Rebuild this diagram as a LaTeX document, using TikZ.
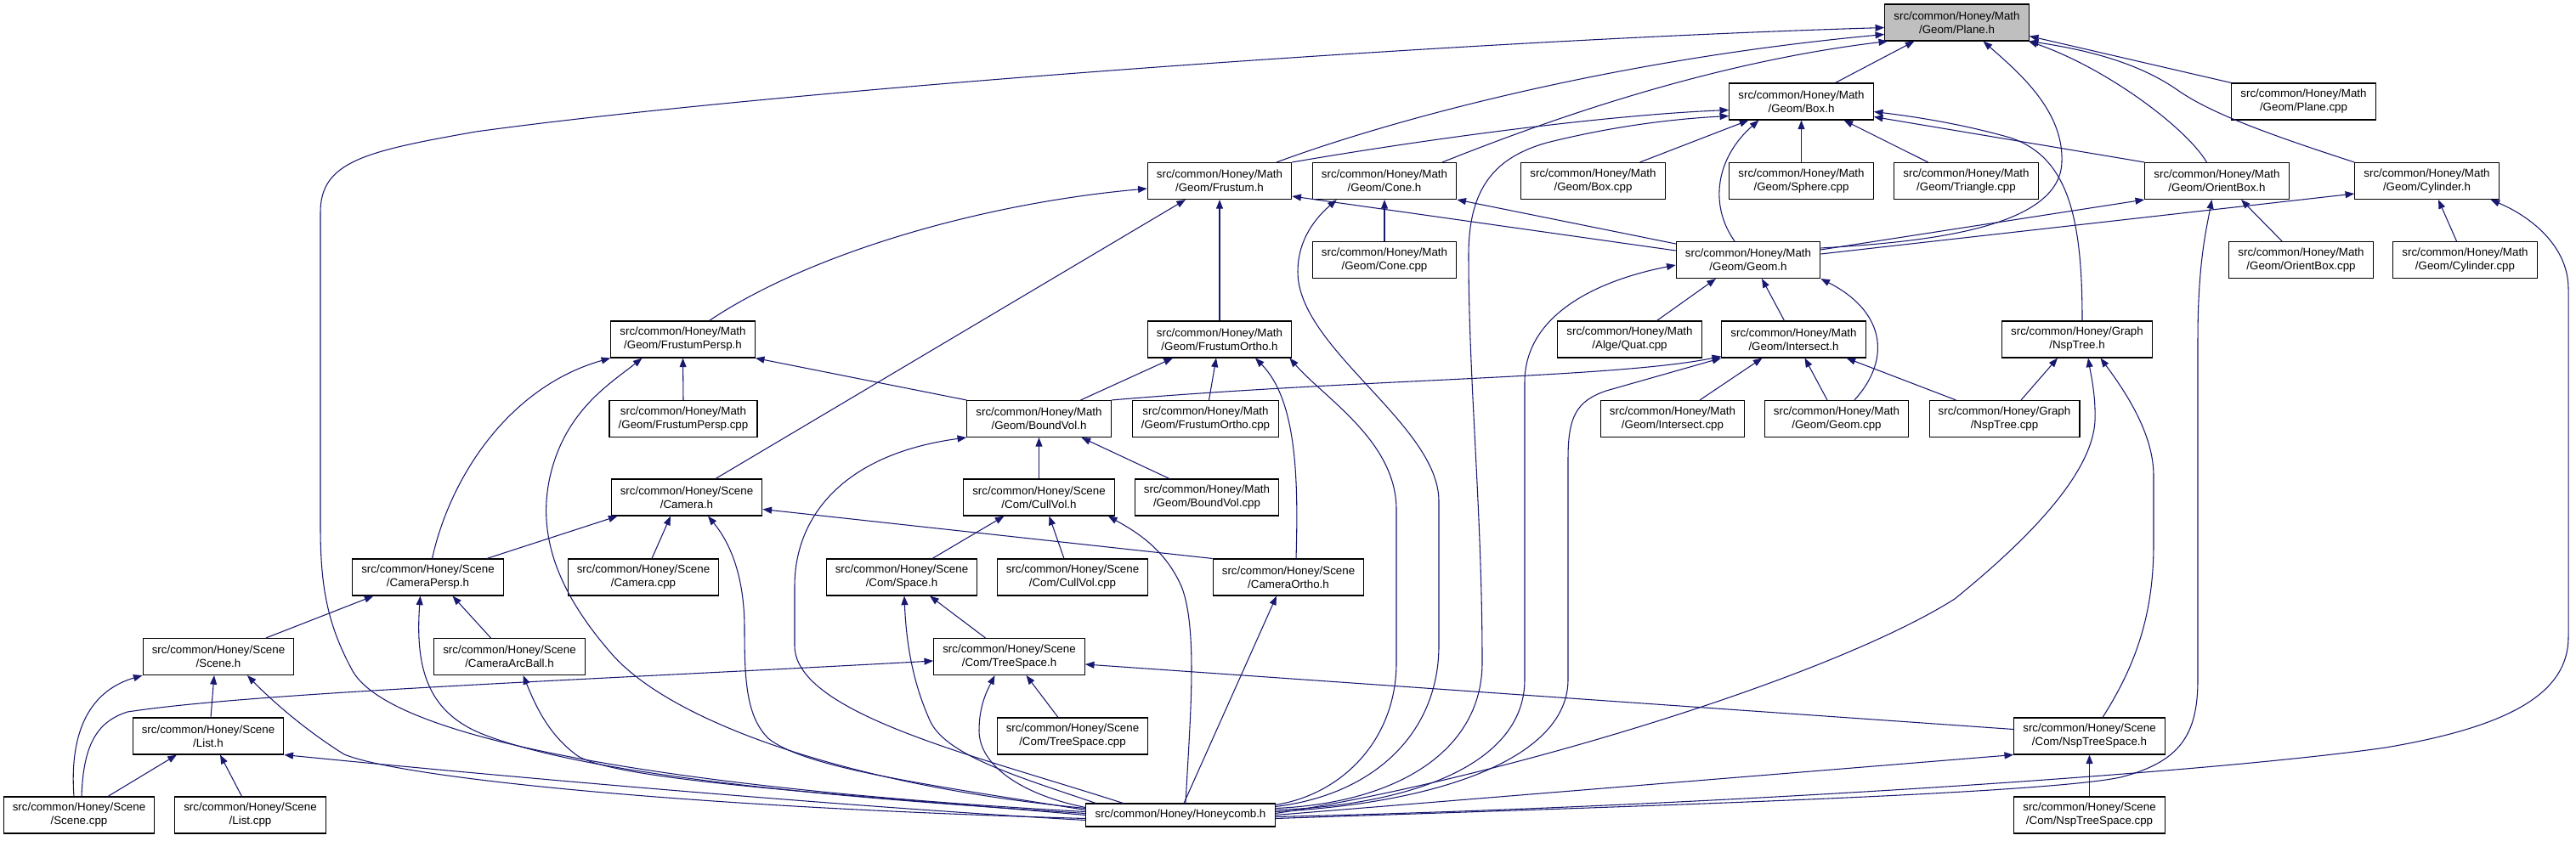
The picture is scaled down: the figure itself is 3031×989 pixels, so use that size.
\documentclass[tikz,border=0pt]{standalone}
\usepackage{fontspec}
\setmainfont{Liberation Sans}
\usetikzlibrary{calc, arrows.meta}
\definecolor{inclblue}{HTML}{191970}
\tikzset{
  file box/.style={draw=black, fill=white, line width=0.8pt, align=center, inner xsep=8pt, inner ysep=0pt, minimum height=32.25pt, font=\fontsize{10pt}{12pt}\selectfont},
  root box/.style={file box, fill=black!25},
  flat box/.style={file box, minimum height=20.25pt},
  include line/.style={->, inclblue, line width=0.8pt},
  >={Triangle[length=8pt, width=6pt]},
}
\newcommand{\geomFile}[1]{src/common/Honey/Math\\/Geom/#1}
\newcommand{\sceneFile}[1]{src/common/Honey/Scene\\/#1}

\begin{document}
\begin{tikzpicture}[x=0.75pt, y=-0.75pt]
  \useasboundingbox (0,0) rectangle (3031,989);
  % files
  \node[root box] (plane) at (2302.5,26.5) {\geomFile{Plane.h}};
  \node[file box] (box) at (2119.5,119.5) {\geomFile{Box.h}};
  \node[file box] (planecpp) at (2710.5,119.5) {\geomFile{Plane.cpp}};
  \node[file box] (frustum) at (1435,213) {\geomFile{Frustum.h}};
  \node[file box] (cone) at (1629,213) {\geomFile{Cone.h}};
  \node[file box] (boxcpp) at (1874.5,213) {\geomFile{Box.cpp}};
  \node[file box] (spherecpp) at (2119.5,213) {\geomFile{Sphere.cpp}};
  \node[file box] (trianglecpp) at (2313.5,213) {\geomFile{Triangle.cpp}};
  \node[file box] (orientbox) at (2608.5,213) {\geomFile{OrientBox.h}};
  \node[file box] (cylinder) at (2855.5,213) {\geomFile{Cylinder.h}};
  \node[file box] (conecpp) at (1629,306) {\geomFile{Cone.cpp}};
  \node[file box] (geom) at (2057,306) {\geomFile{Geom.h}};
  \node[file box] (orientboxcpp) at (2707.5,306) {\geomFile{OrientBox.cpp}};
  \node[file box] (cylindercpp) at (2900.5,306) {\geomFile{Cylinder.cpp}};
  \node[file box] (frustumpersp) at (803.5,399.5) {\geomFile{FrustumPersp.h}};
  \node[file box] (frustumortho) at (1435,399.5) {\geomFile{FrustumOrtho.h}};
  \node[file box] (quatcpp) at (1917.5,399.5) {src/common/Honey/Math\\/Alge/Quat.cpp};
  \node[file box] (intersect) at (2110.5,399.5) {\geomFile{Intersect.h}};
  \node[file box] (nsptree) at (2444,399.5) {src/common/Honey/Graph\\/NspTree.h};
  \node[file box] (frustumperspcpp) at (804,493) {\geomFile{FrustumPersp.cpp}};
  \node[file box] (boundvol) at (1222.5,493) {\geomFile{BoundVol.h}};
  \node[file box] (frustumorthocpp) at (1418.5,493) {\geomFile{FrustumOrtho.cpp}};
  \node[file box] (intersectcpp) at (1968,493) {\geomFile{Intersect.cpp}};
  \node[file box] (geomcpp) at (2161,493) {\geomFile{Geom.cpp}};
  \node[file box] (nsptreecpp) at (2358.5,493) {src/common/Honey/Graph\\/NspTree.cpp};
  \node[file box] (camera) at (808,585.5) {\sceneFile{Camera.h}};
  \node[file box] (cullvol) at (1222.5,585.5) {\sceneFile{Com/CullVol.h}};
  \node[file box] (boundvolcpp) at (1420,585.5) {\geomFile{BoundVol.cpp}};
  \node[file box] (cameraperp) at (503.5,679.5) {\sceneFile{CameraPersp.h}};
  \node[file box] (cameracpp) at (757,679.5) {\sceneFile{Camera.cpp}};
  \node[file box] (space) at (1061,679.5) {\sceneFile{Com/Space.h}};
  \node[file box] (cullvolcpp) at (1262,679.5) {\sceneFile{Com/CullVol.cpp}};
  \node[file box] (cameraortho) at (1516,679.5) {\sceneFile{CameraOrtho.h}};
  \node[file box] (scene) at (257,773) {\sceneFile{Scene.h}};
  \node[file box] (cameraarcball) at (599.5,773) {\sceneFile{CameraArcBall.h}};
  \node[file box] (treespace) at (1187.5,773) {\sceneFile{Com/TreeSpace.h}};
  \node[file box] (list) at (245,866.5) {\sceneFile{List.h}};
  \node[file box] (treespacecpp) at (1262,866.5) {\sceneFile{Com/TreeSpace.cpp}};
  \node[file box] (nsptreespace) at (2458.5,866.5) {\sceneFile{Com/NspTreeSpace.h}};
  \node[file box] (scenecpp) at (93,959.5) {\sceneFile{Scene.cpp}};
  \node[file box] (listcpp) at (294.5,959.5) {\sceneFile{List.cpp}};
  \node[flat box] (honeycomb) at (1389,959.5) {src/common/Honey/Honeycomb.h};
  \node[file box] (nsptreespacecpp) at (2458.5,959.5) {\sceneFile{Com/NspTreeSpace.cpp}};

  % into Plane.h
  \draw[include line] ($(box.north)+(40,0)$) -- ($(plane.south)+(-50,0)$);
  \draw[include line] ($(frustum.north)+(67,0)$) .. controls (1640,140) and (1900,70) .. ($(plane.west)+(0,14)$);
  \draw[include line] ($(cone.north)+(68,0)$) .. controls (1800,150) and (2000,75) .. ($(plane.south west)+(4,0)$);
  \draw[include line] ($(geom.east)+(0,-14)$) .. controls (2260,285) and (2425,270) .. (2426,190) .. controls (2428,130) and (2375,85) .. ($(plane.south)+(31,0)$);
  \draw[include line] ($(orientbox.north)+(-12,0)$) .. controls (2572,150) and (2478,80) .. ($(plane.south east)+(-1,0)$);
  \draw[include line] (cylinder.north west) .. controls (2675,160) and (2605,135) .. (2565,108) .. controls (2515,72) and (2450,58) .. (plane.south east);
  \draw[include line] (planecpp.north west) -- ($(plane.east)+(0,16)$);
  \draw[include line] ($(honeycomb.west)+(0,-4)$) .. controls (900,935) and (470,885) .. (415,790) .. controls (385,735) and (377,690) .. (377,620) -- (377,250) .. controls (377,190) and (430,178) .. (560,155) .. controls (900,108) and (1700,48) .. ($(plane.west)+(0,6)$);

  % into Box.h
  \draw[include line] (frustum.north east) .. controls (1700,160) and (1900,135) .. ($(box.west)+(0,10)$);
  \draw[include line] ($(honeycomb.east)+(0,-8)$) .. controls (1650,945) and (1744,880) .. (1744,780) .. controls (1744,600) and (1728,450) .. (1728,300) .. controls (1728,220) and (1760,185) .. (1820,168) .. controls (1900,148) and (1970,140) .. ($(box.west)+(0,17)$);
  \draw[include line] ($(boxcpp.north)+(55,0)$) -- ($(box.south)+(-62,0)$);
  \draw[include line] ($(geom.north)+(-16,0)$) .. controls (2010,240) and (2020,185) .. ($(box.south)+(-50,0)$);
  \draw[include line] (spherecpp.north) -- (box.south);
  \draw[include line] ($(trianglecpp.north)+(-45,0)$) -- ($(box.south)+(50,0)$);
  \draw[include line] (orientbox.north west) -- ($(box.east)+(0,18)$);
  \draw[include line] ($(nsptree.north)+(6,0)$) .. controls (2450,260) and (2435,185) .. (2365,162) .. controls (2305,145) and (2250,137) .. ($(box.east)+(0,12)$);

  % into Frustum.h and Cone.h
  \draw[include line] ($(geom.west)+(0,-11)$) -- ($(frustum.east)+(0,18)$);
  \draw[include line] ($(frustumpersp.north)+(31,0)$) .. controls (950,300) and (1150,240) .. ($(frustum.west)+(0,9)$);
  \draw[include line] ($(camera.north)+(34,0)$) -- ($(frustum.south)+(-40,0)$);
  \draw[include line] (frustumortho.north) -- (frustum.south);
  \draw[include line] (conecpp.north) -- (cone.south);
  \draw[include line] ($(geom.west)+(0,-19)$) -- (cone.south east);
  \draw[include line] ($(honeycomb.east)+(0,-10)$) .. controls (1620,935) and (1693,860) .. (1693,760) -- (1693,590) .. controls (1693,500) and (1527,410) .. (1527,320) .. controls (1527,280) and (1550,255) .. ($(cone.south west)+(29,0)$);

  % into Geom.h, OrientBox.h, Cylinder.h
  \draw[include line] ($(quatcpp.north)+(32,0)$) -- ($(geom.south)+(-38,0)$);
  \draw[include line] ($(intersect.north)+(-11,0)$) -- ($(geom.south)+(16,0)$);
  \draw[include line] ($(geomcpp.north)+(21,0)$) .. controls (2228,420) and (2215,365) .. (geom.south east);
  \draw[include line] ($(honeycomb.east)+(0,-6)$) .. controls (1660,948) and (1794,900) .. (1794,800) -- (1794,450) .. controls (1794,370) and (1880,330) .. ($(geom.west)+(0,6)$);
  \draw[include line] ($(geom.east)+(0,-12)$) -- (orientbox.south west);
  \draw[include line] ($(geom.east)+(0,-7)$) -- ($(cylinder.west)+(0,15)$);
  \draw[include line] ($(orientboxcpp.north)+(-22.5,0)$) -- ($(orientbox.south)+(28.5,0)$);
  \draw[include line] ($(honeycomb.east)+(0,4)$) .. controls (1900,950) and (2400,935) .. (2495,915) .. controls (2565,897) and (2586,865) .. (2586,800) -- (2586,400) .. controls (2586,310) and (2596,270) .. ($(orientbox.south)+(-6,0)$);
  \draw[include line] ($(cylindercpp.north)+(-10,0)$) -- ($(cylinder.south)+(13.5,0)$);
  \draw[include line] ($(honeycomb.east)+(0,2)$) .. controls (2000,950) and (2600,910) .. (2807,880) .. controls (2955,855) and (3022,815) .. (3022,750) -- (3022,340) .. controls (3022,290) and (2978,255) .. ($(cylinder.south)+(75,0)$);

  % into Intersect.h and NspTree.h
  \draw[include line] ($(honeycomb.east)+(0,-4)$) .. controls (1700,945) and (1845,890) .. (1845,800) -- (1845,540) .. controls (1845,490) and (1855,472) .. (1890,460) -- (intersect.south west);
  \draw[include line] (boundvol.north east) .. controls (1600,446) and (1900,445) .. ($(intersect.south west)+(0,-2)$);
  \draw[include line] ($(intersectcpp.north)+(32,0)$) -- ($(intersect.south)+(-37,0)$);
  \draw[include line] ($(geomcpp.north)+(-11,0)$) -- ($(intersect.south)+(13,0)$);
  \draw[include line] ($(nsptreecpp.north)+(-57,0)$) -- ($(intersect.south)+(62,0)$);
  \draw[include line] ($(nsptreecpp.north)+(19.5,0)$) -- ($(nsptree.south)+(-23,0)$);
  \draw[include line] ($(honeycomb.east)+(0,-2)$) .. controls (1750,920) and (2150,800) .. (2300,705) .. controls (2380,640) and (2462,560) .. (2465,495) .. controls (2466,465) and (2460,440) .. ($(nsptree.south)+(13,0)$);
  \draw[include line] ($(nsptreespace.north)+(15.5,0)$) .. controls (2515,780) and (2534,720) .. (2534,640) -- (2534,560) .. controls (2534,510) and (2500,460) .. ($(nsptree.south)+(27.5,0)$);

  % into FrustumPersp.h and FrustumOrtho.h
  \draw[include line] (frustumperspcpp.north) -- (frustumpersp.south);
  \draw[include line] (boundvol.north west) -- (frustumpersp.south east);
  \draw[include line] ($(cameraperp.north)+(5,0)$) .. controls (530,560) and (600,455) .. (frustumpersp.south west);
  \draw[include line] ($(honeycomb.west)+(0,-8)$) .. controls (1000,925) and (790,850) .. (720,770) .. controls (650,690) and (630,620) .. (650,550) .. controls (670,480) and (720,450) .. ($(frustumpersp.south)+(-48,0)$);
  \draw[include line] ($(frustumorthocpp.north)+(4,0)$) -- ($(frustumortho.south)+(-4,0)$);
  \draw[include line] ($(boundvol.north)+(49,0)$) -- ($(frustumortho.south)+(-55,0)$);
  \draw[include line] ($(cameraortho.north)+(9,0)$) .. controls (1528,560) and (1525,470) .. ($(frustumortho.south)+(42,0)$);
  \draw[include line] ($(honeycomb.east)+(0,-12)$) .. controls (1580,935) and (1643,870) .. (1643,780) -- (1643,600) .. controls (1643,520) and (1560,470) .. ($(frustumortho.south east)+(-3,0)$);

  % into BoundVol.h and CullVol.h
  \draw[include line] (cullvol.north) -- (boundvol.south);
  \draw[include line] ($(boundvolcpp.north)+(-44,0)$) -- ($(boundvol.south)+(50,0)$);
  \draw[include line] ($(honeycomb.north west)+(44,0)$) .. controls (1150,890) and (935,840) .. (935,760) -- (935,690) .. controls (935,610) and (990,535) .. (boundvol.south west);
  \draw[include line] ($(space.north)+(36,0)$) -- ($(cullvol.south)+(-41,0)$);
  \draw[include line] ($(cullvolcpp.north)+(-10,0)$) -- ($(cullvol.south)+(12,0)$);
  \draw[include line] ($(honeycomb.north)+(6,0)$) .. controls (1400,850) and (1410,740) .. (1390,690) .. controls (1370,645) and (1335,625) .. ($(cullvol.south east)+(-8,0)$);

  % into the Camera files
  \draw[include line] ($(cameraperp.north east)+(-20,0)$) -- ($(camera.south west)+(8,0)$);
  \draw[include line] ($(cameracpp.north)+(10,0)$) -- ($(camera.south)+(-19,0)$);
  \draw[include line] ($(honeycomb.west)+(0,-6)$) .. controls (1100,925) and (950,905) .. (905,870) .. controls (878,845) and (876,800) .. (876,740) .. controls (876,680) and (860,640) .. ($(camera.south)+(25,0)$);
  \draw[include line] (cameraortho.north west) -- ($(camera.east)+(0,14)$);
  \draw[include line] ($(scene.north)+(56,0)$) -- ($(cameraperp.south)+(-64,0)$);
  \draw[include line] ($(cameraarcball.north)+(-22,0)$) -- ($(cameraperp.south)+(29,0)$);
  \draw[include line] ($(honeycomb.west)+(0,-2)$) .. controls (1000,940) and (700,915) .. (570,865) .. controls (505,840) and (488,790) .. ($(cameraperp.south)+(-9,0)$);
  \draw[include line] ($(honeycomb.north)+(4,0)$) -- ($(cameraortho.south)+(-14,0)$);
  \draw[include line] ($(honeycomb.west)+(0,0)$) .. controls (1000,935) and (730,920) .. (680,890) .. controls (645,865) and (630,830) .. ($(cameraarcball.south)+(16,0)$);

  % into Scene.h and List.h
  \draw[include line] ($(list.north)+(3,0)$) -- ($(scene.south)+(-5,0)$);
  \draw[include line] ($(scenecpp.north)+(-6,0)$) .. controls (82,870) and (100,815) .. (scene.south west);
  \draw[include line] ($(honeycomb.west)+(0,4)$) .. controls (800,950) and (470,915) .. (405,888) .. controls (360,860) and (320,825) .. ($(scene.south)+(34,0)$);
  \draw[include line] ($(scenecpp.north)+(34,0)$) -- ($(list.south)+(-37,0)$);
  \draw[include line] ($(listcpp.north)+(-10,0)$) -- ($(list.south)+(14,0)$);
  \draw[include line] ($(honeycomb.west)+(0,6)$) .. controls (1000,950) and (600,915) .. (list.south east);

  % into Space.h, TreeSpace.h, NspTreeSpace.h
  \draw[include line] ($(treespace.north)+(-28,0)$) -- ($(space.south)+(33,0)$);
  \draw[include line] ($(honeycomb.north west)+(12,0)$) .. controls (1200,915) and (1115,890) .. (1095,850) .. controls (1072,800) and (1066,750) .. ($(space.south)+(3,0)$);
  \draw[include line] ($(scenecpp.north)+(3,0)$) .. controls (98,880) and (112,850) .. (150,838) .. controls (300,815) and (700,800) .. ($(treespace.west)+(0,5)$);
  \draw[include line] ($(treespacecpp.north)+(-17,0)$) -- ($(treespace.south)+(20,0)$);
  \draw[include line] ($(honeycomb.west)+(0,-9)$) .. controls (1200,935) and (1152,900) .. (1152,860) .. controls (1152,830) and (1162,812) .. ($(treespace.south)+(-17,0)$);
  \draw[include line] ($(nsptreespace.west)+(0,-8)$) -- ($(treespace.east)+(0,9)$);
  \draw[include line] (nsptreespacecpp.north) -- (nsptreespace.south);
  \draw[include line] (honeycomb.east) -- (nsptreespace.south west);
\end{tikzpicture}
\end{document}
